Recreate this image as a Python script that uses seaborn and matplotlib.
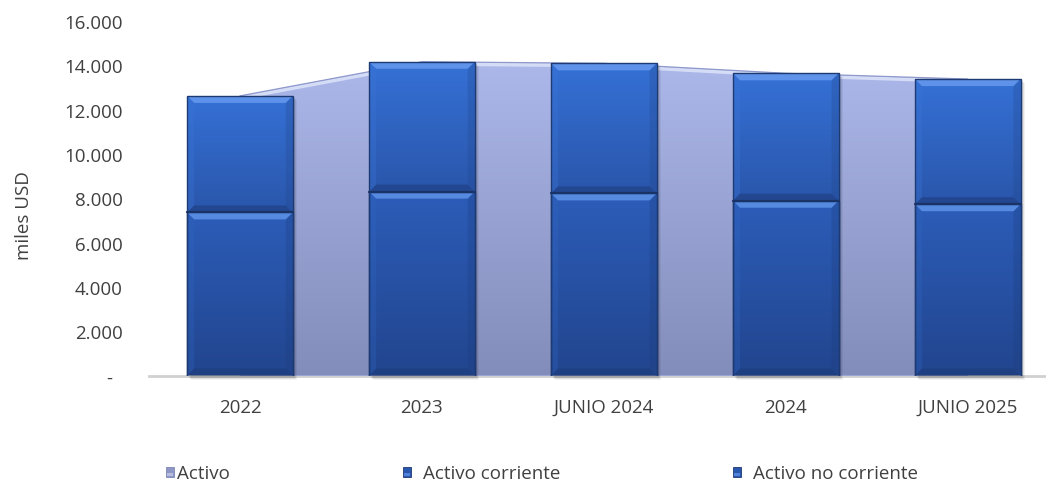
import numpy as np
import pandas as pd
import matplotlib
matplotlib.use("Agg")
import matplotlib.pyplot as plt
import matplotlib.transforms as mtransforms
from matplotlib.patches import Rectangle, Polygon
from matplotlib.colors import LinearSegmentedColormap
import seaborn as sns

# Balance data (miles USD)
periodos = ["2022", "2023", "JUNIO 2024", "2024", "JUNIO 2025"]
activo = [12620, 14160, 14090, 13640, 13380]
activo_corriente = [7360, 8300, 8220, 7890, 7730]
activo_no_corriente = [5260, 5860, 5870, 5750, 5650]

y_ticks = [0, 2000, 4000, 6000, 8000, 10000, 12000, 14000, 16000]
y_tick_labels = ["-", "2.000", "4.000", "6.000", "8.000", "10.000", "12.000", "14.000", "16.000"]
legend_labels = ["Activo", "Activo corriente", "Activo no corriente"]

sns.set_theme(style="white")
plt.rcParams["font.family"] = ["Open Sans", "DejaVu Sans"]
TEXT = "#404040"
FS = 13.5

W, H = 1046, 481
fig = plt.figure(figsize=(W / 100, H / 100), dpi=100)
ax = fig.add_axes([149 / W, (H - 376.5) / H, (W - 149) / W, (376.5 - 22) / H])

df = pd.DataFrame({
    "periodo": periodos,
    "activo": activo,
    "corriente": activo_corriente,
    "total_barra": np.add(activo_corriente, activo_no_corriente),
})

# Stacked bars: full height (no corriente on top) drawn first, corriente over it
sns.barplot(data=df, x="periodo", y="total_barra", color="#3068c8", width=0.58,
            edgecolor="#1d3a72", linewidth=1.0, ax=ax, zorder=3)
sns.barplot(data=df, x="periodo", y="corriente", color="#2a55aa", width=0.58,
            edgecolor="#1d3a72", linewidth=1.0, ax=ax, zorder=4)

XLIM = (-0.5, 4.43)
YLIM = (0, 16000)
ax.set_xlim(*XLIM)
ax.set_ylim(*YLIM)

# pixel -> data scale factors
px_x = (XLIM[1] - XLIM[0]) / (W - 149)
px_y = (YLIM[1] - YLIM[0]) / (376.5 - 22)

# Activo area with vertical gradient
xs = np.arange(len(periodos))
area = ax.fill_between(xs, activo, 0, color="#9aa5d6", linewidth=0, zorder=1)
area_path = area.get_paths()[0]
grad = np.linspace(0, 1, 256).reshape(-1, 1)
cmap_area = LinearSegmentedColormap.from_list("area", ["#838dbb", "#acb8ea"])
im = ax.imshow(grad, extent=[xs[0], xs[-1], 0, max(activo)], origin="lower",
               cmap=cmap_area, aspect="auto", zorder=1.5, interpolation="bicubic")
im.set_clip_path(area_path, ax.transData)
ax.plot(xs, np.array(activo) - 2.2 * px_y, color="#d4dcf6", lw=2.6, zorder=1.6,
        solid_capstyle="butt")
ax.plot(xs, activo, color="#8f99cc", lw=0.9, zorder=1.7)

# Gradient fill + bevels for each bar segment
n = len(periodos)
bars_top = ax.patches[:n]
bars_bottom = ax.patches[n:2 * n]
cmap_top = LinearSegmentedColormap.from_list("top", ["#2a56ab", "#3571d6"])
cmap_bot = LinearSegmentedColormap.from_list("bot", ["#22458e", "#2c5db9"])

dx = 7 * px_x
dy = 7 * px_y

def shade_segment(x0, w, y_lo, y_hi, cmap, z, top_col, left_col, right_col, bot_col, clip):
    img = ax.imshow(grad, extent=[x0, x0 + w, y_lo, y_hi], origin="lower", cmap=cmap,
                    aspect="auto", zorder=z, interpolation="bicubic")
    img.set_clip_path(clip)
    x1 = x0 + w
    bev = [
        ([(x0, y_lo), (x0 + dx, y_lo + dy), (x0 + dx, y_hi - dy), (x0, y_hi)], left_col),
        ([(x1, y_lo), (x1, y_hi), (x1 - dx, y_hi - dy), (x1 - dx, y_lo + dy)], right_col),
        ([(x0, y_lo), (x1, y_lo), (x1 - dx, y_lo + dy), (x0 + dx, y_lo + dy)], bot_col),
        ([(x0, y_hi), (x1, y_hi), (x1 - dx, y_hi - dy), (x0 + dx, y_hi - dy)], top_col),
    ]
    for pts, (c, a) in bev:
        p = Polygon(pts, closed=True, facecolor=c, alpha=a, edgecolor="none", zorder=z + 0.1)
        ax.add_patch(p)
        p.set_clip_path(clip)

for ptop, pbot in zip(bars_top, bars_bottom):
    x0, w = ptop.get_x(), ptop.get_width()
    y_bnd = pbot.get_height()
    y_tot = ptop.get_height()
    # soft drop shadow
    for k, a in [(4, 0.05), (3, 0.07), (2, 0.09)]:
        off = mtransforms.offset_copy(ax.transData, fig=fig, x=k * 0.72, y=-k * 0.72, units="points")
        ax.add_patch(Rectangle((x0, 0), w, y_tot, transform=off, facecolor="black",
                               alpha=a, edgecolor="none", zorder=2.5, clip_on=False))
    ptop.set_facecolor("none")
    pbot.set_facecolor("none")
    ptop.set_zorder(6)
    pbot.set_zorder(6)
    clip_top = Rectangle((x0, y_bnd), w, y_tot - y_bnd, transform=ax.transData)
    clip_bot = Rectangle((x0, 0), w, y_bnd, transform=ax.transData)
    shade_segment(x0, w, y_bnd, y_tot, cmap_top, 3.2,
                  ("#6a9cf0", 0.8), ("#3a74d6", 0.35), ("#23498f", 0.3), ("#1f3f82", 0.65), clip_top)
    shade_segment(x0, w, 0, y_bnd, cmap_bot, 4.2,
                  ("#6296ec", 0.8), ("#3066c2", 0.3), ("#1d3f80", 0.3), ("#1b3873", 0.4), clip_bot)
    ax.plot([x0, x0 + w], [y_bnd, y_bnd], color="#1a3366", lw=1.6, zorder=6.5)

# Axes styling
ax.set_xlim(*XLIM)
ax.set_ylim(*YLIM)
sns.despine(ax=ax, left=True, top=True, right=True, bottom=False)
ax.spines["bottom"].set_color("#d0d0d0")
ax.spines["bottom"].set_linewidth(2.0)
ax.spines["bottom"].set_zorder(0.5)
ax.set_yticks(y_ticks)
ax.set_yticklabels(y_tick_labels)
ax.tick_params(axis="y", length=0, pad=19, labelsize=FS, labelcolor=TEXT)
ax.tick_params(axis="x", length=0, pad=16, labelsize=FS, labelcolor=TEXT)
ax.set_xlabel("")
ax.set_ylabel("miles USD", fontsize=FS, color=TEXT)
ax.yaxis.set_label_coords(-116 / (W - 149), 0.455)
ax.grid(False)
zero_lbl = ax.get_yticklabels()[0]
zero_lbl.set_transform(zero_lbl.get_transform() + mtransforms.ScaledTranslation(-10 / 100, 0, fig.dpi_scale_trans))

# Legend along the bottom
def fx(px):
    return px / W

def fy(py):
    return (H - py) / H

legend_items = [
    (166, 177, legend_labels[0], ("#c3c9e8", "#8d96c4", "#7d86b3")),
    (403, 423, legend_labels[1], ("#5d8fe4", "#2a57ae", "#1d3a72")),
    (733, 753, legend_labels[2], ("#5d8fe4", "#2a57ae", "#1d3a72")),
]
for mx, tx, label, (c_hi, c_body, c_edge) in legend_items:
    fig.add_artist(Rectangle((fx(mx), fy(478)), 8 / W, 10 / H, transform=fig.transFigure,
                             facecolor=c_body, edgecolor=c_edge, linewidth=0.6))
    fig.add_artist(Rectangle((fx(mx + 1), fy(477)), 6 / W, 3 / H, transform=fig.transFigure,
                             facecolor=c_hi, edgecolor="none", alpha=0.8))
    fig.text(fx(tx), fy(474), label, fontsize=FS, color=TEXT, va="center", ha="left")

fig.savefig("out.png", dpi=100, facecolor="white")
